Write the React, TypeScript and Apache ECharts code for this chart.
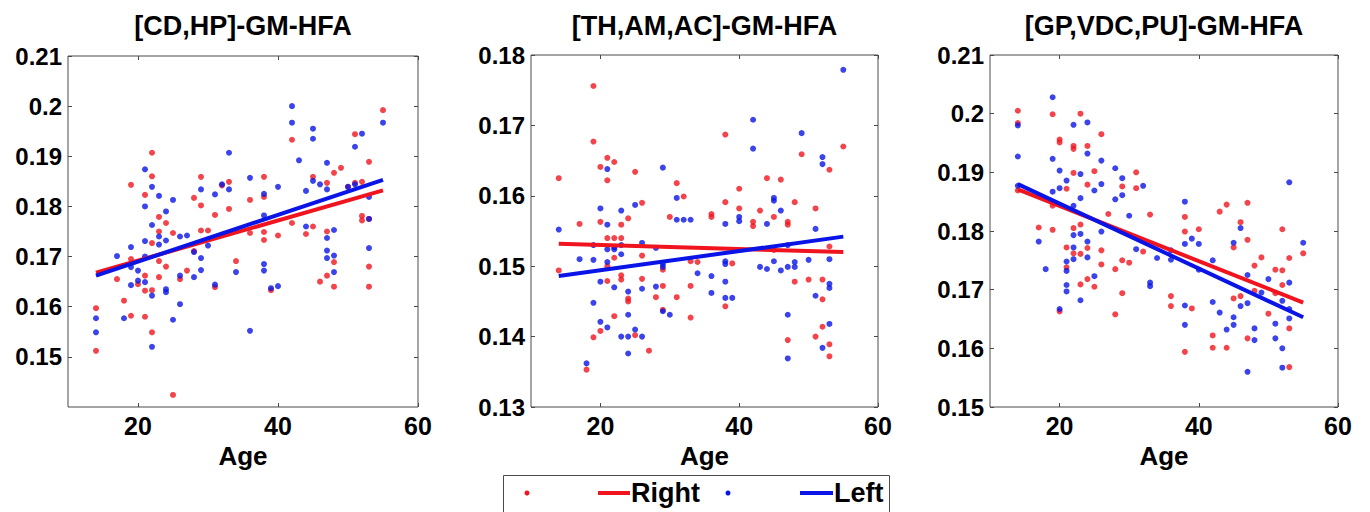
import React, { useEffect, useRef } from "react";
import * as echarts from "echarts";

// ---------- data ----------
const titles = ["[CD,HP]-GM-HFA", "[TH,AM,AC]-GM-HFA", "[GP,VDC,PU]-GM-HFA"];
const xTicks = [20, 40, 60];
const yTicks1 = [0.15, 0.16, 0.17, 0.18, 0.19, 0.2, 0.21];
const yTicks2 = [0.13, 0.14, 0.15, 0.16, 0.17, 0.18];
const yTicks3 = [0.15, 0.16, 0.17, 0.18, 0.19, 0.2, 0.21];
const yRanges: [number, number][] = [[0.14, 0.21], [0.13, 0.18], [0.15, 0.21]];
const xRange: [number, number] = [10, 60];

const p1Right: [number, number][] = [
  [14,0.1597],[14,0.1512],[17,0.1655],[18,0.1612],[19,0.1843],[19,0.1695],[19,0.1582],[20,0.1645],
  [21,0.1823],[21,0.1662],[21,0.1632],[21,0.158],[22,0.1907],[22,0.186],[22,0.1727],[22,0.1633],[22,0.1549],
  [23,0.1779],[23,0.175],[23,0.1691],[23,0.1659],[24,0.1767],[24,0.168],[25,0.1747],[25,0.1424],[26,0.1655],
  [27,0.1672],[28,0.1817],[28,0.1711],[29,0.1859],[29,0.1802],[29,0.1752],[30,0.1752],[31,0.1783],[31,0.1639],
  [32,0.1842],[33,0.1849],[33,0.1795],[34,0.1691],[36,0.1813],[36,0.1747],[38,0.1859],[38,0.1819],[38,0.1749],
  [38,0.1733],[39,0.1633],[40,0.1742],[42,0.1933],[42,0.1767],[44,0.1745],[45,0.1859],[45,0.176],[46,0.165],
  [47,0.1847],[47,0.175],[47,0.1662],[48,0.1867],[48,0.1689],[48,0.164],[49,0.1877],[50,0.1839],[51,0.1944],
  [51,0.1847],[52,0.1849],[52,0.1781],[52,0.1772],[53,0.1889],[53,0.1775],[53,0.168],[53,0.164],[55,0.1992]
];
const p1Left: [number, number][] = [
  [14,0.1577],[14,0.1549],[17,0.1701],[18,0.1577],[19,0.1719],[19,0.1679],[19,0.1643],[20,0.1672],[20,0.1652],
  [21,0.1874],[21,0.18],[21,0.1731],[21,0.17],[21,0.1649],[22,0.1839],[22,0.1763],[22,0.1622],[22,0.152],
  [23,0.1821],[23,0.174],[23,0.1724],[24,0.179],[24,0.1732],[24,0.1635],[24,0.1629],[25,0.1813],[25,0.1574],
  [26,0.174],[26,0.1662],[26,0.1605],[27,0.1742],[28,0.1709],[28,0.1659],[29,0.1834],[29,0.1697],[29,0.1673],
  [30,0.1722],[31,0.1824],[31,0.1644],[32,0.1844],[33,0.1907],[33,0.1834],[34,0.1669],[36,0.1857],[36,0.1552],
  [38,0.1825],[38,0.1782],[38,0.1685],[38,0.1672],[39,0.1637],[40,0.1839],[40,0.1641],[42,0.2],[42,0.1967],
  [43,0.1892],[44,0.1831],[44,0.176],[45,0.1955],[45,0.1935],[45,0.1851],[46,0.1844],[47,0.1887],[47,0.1834],
  [47,0.1737],[47,0.1712],[47,0.1697],[48,0.1753],[48,0.1702],[48,0.1669],[50,0.1839],[51,0.1919],[51,0.1844],
  [52,0.1945],[53,0.1819],[53,0.1775],[53,0.1717],[55,0.1967]
];
const p2Right: [number, number][] = [
  [14,0.1625],[14,0.1494],[17,0.156],[18,0.1353],[19,0.1756],[19,0.1677],[19,0.1399],[20,0.1641],[20,0.1563],
  [20,0.1408],[21,0.1654],[21,0.1622],[21,0.154],[21,0.15],[21,0.1479],[22,0.1648],[22,0.154],[22,0.1512],
  [22,0.1429],[23,0.1559],[23,0.154],[23,0.1487],[23,0.1481],[24,0.1568],[24,0.1454],[24,0.145],[25,0.1634],
  [25,0.1402],[26,0.159],[26,0.1515],[26,0.1482],[27,0.138],[28,0.1456],[29,0.1495],[29,0.1472],[29,0.1438],
  [30,0.157],[31,0.1618],[31,0.1456],[32,0.1599],[33,0.1507],[33,0.1472],[33,0.1427],[34,0.1506],[36,0.1574],
  [36,0.157],[38,0.1687],[38,0.1591],[38,0.1443],[39,0.1504],[40,0.161],[40,0.1582],[42,0.1563],[42,0.1557],
  [43,0.1579],[44,0.1625],[45,0.157],[45,0.1523],[46,0.1623],[47,0.1563],[47,0.1559],[47,0.1395],[48,0.1591],
  [48,0.1478],[49,0.1659],[50,0.1481],[51,0.1582],[51,0.14],[52,0.1481],[52,0.1453],[52,0.1414],[53,0.1637],
  [53,0.1528],[53,0.1389],[53,0.1372],[55,0.167]
];
const p2Left: [number, number][] = [
  [14,0.1552],[17,0.151],[18,0.1362],[19,0.153],[19,0.1509],[19,0.1448],[20,0.1582],[20,0.1478],[20,0.1421],
  [21,0.1638],[21,0.1559],[21,0.1524],[21,0.1506],[21,0.1413],[22,0.1527],[22,0.1524],[22,0.147],[23,0.1579],
  [23,0.153],[23,0.1517],[23,0.14],[24,0.1464],[24,0.1431],[24,0.14],[24,0.1376],[25,0.1587],[25,0.141],
  [26,0.1533],[26,0.1468],[26,0.14],[28,0.1526],[28,0.1471],[29,0.164],[29,0.1499],[29,0.1503],[29,0.1436],
  [30,0.1431],[31,0.1597],[31,0.1566],[32,0.1566],[33,0.1566],[34,0.149],[36,0.1486],[36,0.1462],[38,0.156],
  [38,0.1507],[38,0.1503],[38,0.1478],[38,0.1455],[39,0.1455],[40,0.157],[40,0.1564],[42,0.1708],[42,0.1667],
  [43,0.1499],[44,0.156],[44,0.1496],[45,0.1597],[45,0.1593],[45,0.1507],[46,0.1579],[46,0.1494],[47,0.153],
  [47,0.1499],[47,0.1431],[47,0.1369],[48,0.1506],[48,0.1499],[49,0.1689],[50,0.1509],[51,0.1553],[51,0.1458],
  [52,0.1655],[52,0.1645],[52,0.1384],[53,0.151],[53,0.1475],[53,0.1469],[53,0.1418],[55,0.1779]
];
const p3Right: [number, number][] = [
  [14,0.2005],[14,0.1984],[14,0.1869],[17,0.1806],[19,0.1999],[19,0.1843],[19,0.1802],[20,0.1956],[20,0.1951],
  [20,0.1663],[21,0.1872],[21,0.1772],[21,0.1738],[22,0.1945],[22,0.194],[22,0.1899],[22,0.1805],[22,0.1762],
  [23,0.2],[23,0.1811],[23,0.1761],[23,0.1709],[24,0.1945],[24,0.1879],[24,0.1771],[24,0.1718],[25,0.1902],
  [25,0.1705],[26,0.1965],[26,0.1767],[26,0.1743],[27,0.1829],[28,0.1735],[28,0.1658],[29,0.1876],[29,0.175],
  [29,0.1694],[30,0.1746],[31,0.19],[31,0.1873],[32,0.1765],[33,0.1828],[36,0.1689],[36,0.1672],[38,0.1824],
  [38,0.1799],[38,0.1594],[39,0.1668],[40,0.1803],[42,0.1622],[42,0.1601],[43,0.1833],[44,0.1845],[44,0.1601],
  [45,0.1772],[45,0.1685],[46,0.1815],[46,0.1689],[47,0.1848],[47,0.1785],[47,0.1617],[48,0.1741],[48,0.1698],
  [49,0.1755],[50,0.1659],[51,0.1734],[51,0.1694],[52,0.1803],[52,0.1733],[52,0.1708],[53,0.1754],[53,0.1634],
  [53,0.1568],[55,0.1762]
];
const p3Left: [number, number][] = [
  [14,0.198],[14,0.1927],[14,0.1877],[17,0.1782],[18,0.1735],[19,0.2028],[19,0.1923],[19,0.1867],[20,0.1903],
  [20,0.1873],[20,0.1667],[21,0.1886],[21,0.1748],[21,0.1732],[21,0.1708],[21,0.1697],[22,0.1981],[22,0.1843],
  [22,0.1793],[22,0.1772],[22,0.1752],[23,0.1897],[23,0.1856],[23,0.1795],[23,0.1682],[24,0.1985],[24,0.1932],
  [24,0.1782],[24,0.1755],[25,0.1869],[25,0.1723],[26,0.192],[26,0.188],[26,0.1799],[28,0.1907],[28,0.1854],
  [29,0.189],[29,0.1861],[30,0.1826],[31,0.1769],[32,0.1877],[33,0.1712],[33,0.1706],[34,0.1754],[36,0.1767],
  [36,0.1751],[38,0.185],[38,0.1778],[38,0.1673],[38,0.164],[39,0.1787],[40,0.1778],[40,0.1734],[42,0.175],
  [42,0.1679],[43,0.1661],[44,0.1632],[45,0.178],[45,0.1653],[45,0.164],[46,0.1805],[46,0.1672],[47,0.1725],
  [47,0.1677],[47,0.156],[48,0.1634],[48,0.1614],[49,0.1695],[50,0.1718],[51,0.1642],[51,0.1617],[52,0.1681],
  [52,0.16],[52,0.1567],[53,0.1883],[53,0.1712],[53,0.1667],[53,0.1651],[55,0.178]
];
// fitted lines (end points)
const p1RightFit: [number, number][] = [[14, 0.1668], [55, 0.1832]];
const p1LeftFit: [number, number][] = [[14, 0.1662], [55, 0.1853]];
const p2RightFit: [number, number][] = [[14, 0.1532], [55, 0.152]];
const p2LeftFit: [number, number][] = [[14, 0.1486], [55, 0.1542]];
const p3RightFit: [number, number][] = [[14, 0.1871], [55, 0.1678]];
const p3LeftFit: [number, number][] = [[14, 0.188], [55, 0.1653]];

const RED = "#f0141e";
const BLUE = "#0a14e6";
const FONT = '"Liberation Sans", Arial, Helvetica, sans-serif';
const AXIS_COLOR = "#4a4a4a";

const grids = [
  { left: 68, top: 56, width: 350, height: 351 },
  { left: 531, top: 55, width: 347, height: 352 },
  { left: 990, top: 55, width: 348, height: 352 },
];

export default function App() {
  const ref = useRef<HTMLDivElement>(null);
  useEffect(() => {
    if (!ref.current) return;
    const chart = echarts.init(ref.current, undefined, { renderer: "svg" });
    const yTickSets = [yTicks1, yTicks2, yTicks3];
    const panels = [
      [p1Right, p1Left, p1RightFit, p1LeftFit],
      [p2Right, p2Left, p2RightFit, p2LeftFit],
      [p3Right, p3Left, p3RightFit, p3LeftFit],
    ];
    const fmt = (v: number) => String(parseFloat(Number(v).toFixed(3)));
    const xAxes: any[] = [];
    const yAxes: any[] = [];
    const series: any[] = [];
    grids.forEach((g, i) => {
      const common = {
        type: "value",
        gridIndex: i,
        splitLine: { show: false },
        axisLine: { show: false },
      };
      xAxes.push({
        ...common,
        position: "bottom",
        min: xRange[0],
        max: xRange[1],
        name: "Age",
        nameLocation: "middle",
        nameGap: 35,
        nameTextStyle: { fontFamily: FONT, fontWeight: "bold", fontSize: 26, color: "#000" },
        axisTick: { show: true, inside: true, length: 4, customValues: xTicks, lineStyle: { color: AXIS_COLOR } },
        axisLabel: { show: true, customValues: xTicks, margin: 6, fontFamily: FONT, fontWeight: "bold", fontSize: 25, color: "#000", formatter: fmt },
      });
      xAxes.push({
        ...common,
        position: "top",
        min: xRange[0],
        max: xRange[1],
        axisTick: { show: true, inside: true, length: 4, customValues: xTicks, lineStyle: { color: AXIS_COLOR } },
        axisLabel: { show: false },
      });
      yAxes.push({
        ...common,
        position: "left",
        min: yRanges[i][0],
        max: yRanges[i][1],
        axisTick: { show: true, inside: true, length: 4, customValues: yTickSets[i], lineStyle: { color: AXIS_COLOR } },
        axisLabel: { show: true, customValues: yTickSets[i], margin: 6, fontFamily: FONT, fontWeight: "bold", fontSize: 24, color: "#000", formatter: fmt },
      });
      yAxes.push({
        ...common,
        position: "right",
        min: yRanges[i][0],
        max: yRanges[i][1],
        axisTick: { show: true, inside: true, length: 4, customValues: yTickSets[i], lineStyle: { color: AXIS_COLOR } },
        axisLabel: { show: false },
      });
      const [r, l, rf, lf] = panels[i];
      const xi = 2 * i;
      series.push({ type: "scatter", name: "Right", xAxisIndex: xi, yAxisIndex: xi, data: r, symbolSize: 6, itemStyle: { color: RED } });
      series.push({ type: "line", name: "Right fit", xAxisIndex: xi, yAxisIndex: xi, data: rf, symbol: "none", lineStyle: { color: RED, width: 4 } });
      series.push({ type: "scatter", name: "Left", xAxisIndex: xi, yAxisIndex: xi, data: l, symbolSize: 6, itemStyle: { color: BLUE } });
      series.push({ type: "line", name: "Left fit", xAxisIndex: xi, yAxisIndex: xi, data: lf, symbol: "none", lineStyle: { color: BLUE, width: 4 } });
    });

    const titleGraphics = grids.map((g, i) => ({
      type: "text",
      x: g.left + g.width / 2,
      y: 26,
      style: { text: titles[i], fill: "#000", fontFamily: FONT, fontWeight: "bold", fontSize: 27, align: "center", verticalAlign: "middle" },
    }));
    const LY = 493;
    const legend = {
      type: "group",
      children: [
        { type: "rect", shape: { x: 503.5, y: 475.5, width: 386, height: 50 }, style: { fill: "#fff", stroke: AXIS_COLOR, lineWidth: 1 } },
        { type: "circle", shape: { cx: 527, cy: LY, r: 2.5 }, style: { fill: RED } },
        { type: "line", shape: { x1: 598, y1: LY, x2: 630, y2: LY }, style: { stroke: RED, lineWidth: 4 } },
        { type: "text", x: 631, y: LY, style: { text: "Right", fill: "#000", fontFamily: FONT, fontWeight: "bold", fontSize: 27, align: "left", verticalAlign: "middle" } },
        { type: "circle", shape: { cx: 728, cy: LY, r: 2.5 }, style: { fill: BLUE } },
        { type: "line", shape: { x1: 800, y1: LY, x2: 833, y2: LY }, style: { stroke: BLUE, lineWidth: 4 } },
        { type: "text", x: 834, y: LY, style: { text: "Left", fill: "#000", fontFamily: FONT, fontWeight: "bold", fontSize: 27, align: "left", verticalAlign: "middle" } },
      ],
    };

    chart.setOption({
      animation: false,
      backgroundColor: "#fff",
      grid: grids.map((g) => ({ ...g, show: true, borderColor: AXIS_COLOR, borderWidth: 1, backgroundColor: "#fff" })),
      xAxis: xAxes,
      yAxis: yAxes,
      series,
      graphic: [...titleGraphics, legend],
    });
    return () => chart.dispose();
  }, []);
  return (
    <div
      ref={ref}
      style={{ position: "fixed", left: 0, top: 0, width: 1370, height: 512, background: "#fff" }}
    />
  );
}
